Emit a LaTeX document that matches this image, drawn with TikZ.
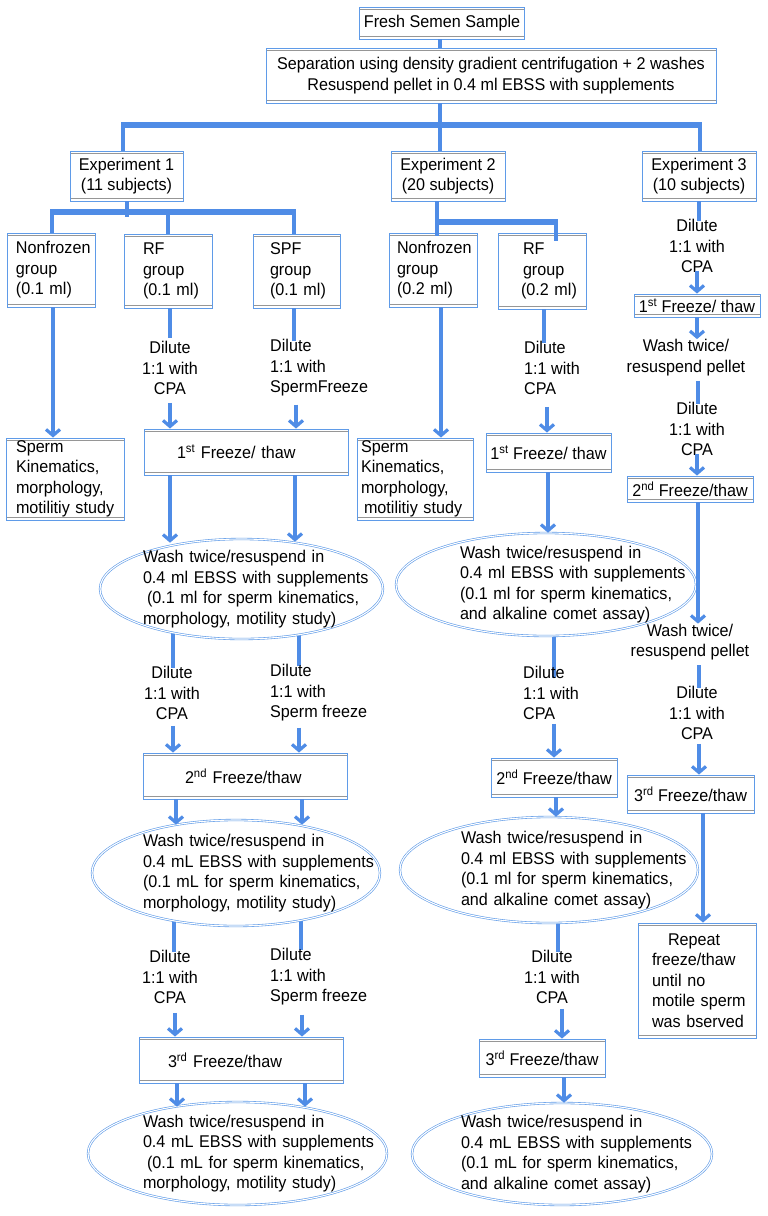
\documentclass[tikz,border=0pt]{standalone}
\usepackage{fontspec}
\setmainfont{Liberation Sans}[FakeStretch=0.95]
\usetikzlibrary{shapes.geometric,arrows.meta,calc}
\pgfdeclarelayer{background}
\pgfsetlayers{background,main}
\definecolor{lineblue}{RGB}{79,140,230}
\definecolor{boxblue}{RGB}{95,155,232}
\definecolor{shadowgray}{RGB}{150,150,150}
\newcommand\myindent[1]{\leftskip=#1\relax}
\begin{document}
\begin{tikzpicture}[x=1pt,y=-1pt,
 every node/.style={font=\fontsize{17}{20.5}\selectfont, inner sep=0pt},
 rbox/.style={draw=boxblue, line width=0.9pt,
   path picture={\draw[shadowgray, line width=0.8pt]
     ([yshift=-2.6pt]path picture bounding box.north west) -- ([yshift=-2.6pt]path picture bounding box.north east)
     ([yshift=2.6pt]path picture bounding box.south west) -- ([yshift=2.6pt]path picture bounding box.south east);}},
 lbox/.style={rbox, align=left, text width=#1},
 cbox/.style={rbox, align=center, minimum width=#1},
 ell/.style={ellipse, draw=boxblue, line width=0.6pt, double=white, double distance=1.1pt, fill=white, inner sep=-60pt, align=left, text width=300pt},
 lab/.style={align=center},
 labl/.style={align=left, anchor=west},
 conn/.style={draw=lineblue, line width=3.6pt},
 into/.style={conn, shorten >=-2pt},
 bar/.style={draw=lineblue, line width=5.5pt},
 arr/.style={conn, -{Straight Barb[length=6pt,width=14pt,line width=3.2pt]}},
 arrl/.style={arr, shorten <=6pt},
]
\useasboundingbox (0,0) rectangle (768,1216);
\begin{pgfonlayer}{background}
\fill[white] (0,0) rectangle (768,1216);
\end{pgfonlayer}

% top
\node[cbox=165pt, minimum height=32pt] (fresh) at (442,23) {Fresh Semen Sample};
\node[cbox=450pt, minimum height=55pt] (sep) at (491,75.5) {Separation using density gradient centrifugation + 2 washes\\Resuspend pellet in 0.4 ml EBSS with supplements};
\node[cbox=113pt, minimum height=50pt] (exp1) at (126.5,176) {Experiment 1\\(11 subjects)};
\node[cbox=114pt, minimum height=50pt] (exp2) at (448,176) {Experiment 2\\(20 subjects)};
\node[cbox=114pt, minimum height=50pt] (exp3) at (699,176) {Experiment 3\\(10 subjects)};

% groups
\node[lbox=88pt, minimum height=74pt] (nf1) at (51,270) {\myindent{9pt}Nonfrozen\\group\\(0.1 ml)\par};
\node[lbox=88pt, minimum height=74pt] (rf1) at (168,271) {\myindent{19pt}RF\\group\\(0.1 ml)\par};
\node[lbox=87pt, minimum height=74pt] (spf1) at (296.5,271) {\myindent{17pt}SPF\\group\\(0.1 ml)\par};
\node[lbox=88pt, minimum height=74pt] (nf2) at (433,270) {\myindent{8pt}Nonfrozen\\group\\(0.2 ml)\par};
\node[lbox=88pt, minimum height=76pt] (rf2) at (542,271) {\myindent{25pt}RF\\group\\\hspace*{-2pt}(0.2 ml)\par};

\node[lbox=118pt, minimum height=82pt] (sk1) at (65,479) {\myindent{10pt}Sperm\\Kinematics,\\morphology,\\motilitiy study\par};
\node[lbox=116pt, minimum height=82pt] (sk2) at (415,479) {\myindent{4pt}Sperm\\Kinematics,\\morphology,\\\hspace*{3pt}motilitiy study\par};

% experiment 1 column
\node[lab] (d1a) at (170,368) {Dilute\\1:1 with\\CPA};
\node[labl] (d1b) at (270,368) {Dilute\\1:1 with\\SpermFreeze};
\node[lbox=204pt, minimum height=46pt] (f1a) at (246,452) {\myindent{33pt}1\textsuperscript{st} Freeze/ thaw\par};
\node[ell, minimum width=283pt, minimum height=100pt] (e1a) at (241.5,589) {\myindent{51.5pt}Wash twice/resuspend in\\0.4 ml EBSS with supplements\\\hspace*{4pt}(0.1 ml for sperm kinematics,\\morphology, motility study)\par};
\node[lab] (d1c) at (172,693) {Dilute\\1:1 with\\CPA};
\node[labl] (d1d) at (270,693) {Dilute\\1:1 with\\Sperm freeze};
\node[lbox=204pt, minimum height=46pt] (f1b) at (245,776) {\myindent{42pt}2\textsuperscript{nd} Freeze/thaw\par};
\node[ell, minimum width=288pt, minimum height=106pt] (e1b) at (236,873) {\myindent{57pt}Wash twice/resuspend in\\0.4 mL EBSS with supplements\\(0.1 mL for sperm kinematics,\\morphology, motility study)\par};
\node[lab] (d1e) at (170,977) {Dilute\\1:1 with\\CPA};
\node[labl] (d1f) at (270,977) {Dilute\\1:1 with\\Sperm freeze};
\node[lbox=204pt, minimum height=46pt] (f1c) at (241,1060) {\myindent{29pt}3\textsuperscript{rd} Freeze/thaw\par};
\node[ell, minimum width=299pt, minimum height=103pt] (e1c) at (237.5,1153.5) {\myindent{55.5pt}Wash twice/resuspend in\\0.4 mL EBSS with supplements\\\hspace*{4pt}(0.1 mL for sperm kinematics,\\morphology, motility study)\par};

% experiment 2 column
\node[labl] (d2a) at (524,368) {Dilute\\1:1 with\\CPA};
\node[cbox=125pt, minimum height=39pt] (f2a) at (548.5,452.5) {1\textsuperscript{st} Freeze/ thaw};
\node[ell, minimum width=300pt, minimum height=103pt] (e2a) at (546,584.5) {\myindent{64pt}Wash twice/resuspend in\\0.4 ml EBSS with supplements\\(0.1 ml for sperm kinematics,\\and alkaline comet assay)\par};
\node[labl] (d2b) at (523,693) {Dilute\\1:1 with\\CPA};
\node[cbox=126pt, minimum height=39pt] (f2b) at (554,777.5) {2\textsuperscript{nd} Freeze/thaw};
\node[ell, minimum width=298pt, minimum height=106pt] (e2b) at (549,870) {\myindent{62pt}Wash twice/resuspend in\\0.4 ml EBSS with supplements\\(0.1 ml for sperm kinematics,\\and alkaline comet assay)\par};
\node[lab] (d2c) at (552,977) {Dilute\\1:1 with\\CPA};
\node[cbox=126pt, minimum height=38pt] (f2c) at (542,1058) {3\textsuperscript{rd} Freeze/thaw};
\node[ell, minimum width=300pt, minimum height=102pt] (e2c) at (562,1154) {\myindent{49pt}Wash twice/resuspend in\\0.4 mL EBSS with supplements\\(0.1 mL for sperm kinematics,\\and alkaline comet assay)\par};

% experiment 3 column
\node[lab] (d3a) at (697,246) {Dilute\\1:1 with\\CPA};
\node[cbox=126pt, minimum height=23pt] (f3a) at (697,305.5) {1\textsuperscript{st} Freeze/ thaw};
\node[lab] (w3a) at (686,357.5) {Wash twice/\\resuspend pellet};
\node[lab] (d3b) at (697,429) {Dilute\\1:1 with\\CPA};
\node[cbox=126pt, minimum height=26pt] (f3b) at (690,489) {2\textsuperscript{nd} Freeze/thaw};
\node[lab] (w3b) at (690,642) {Wash twice/\\resuspend pellet};
\node[lab] (d3c) at (697,713) {Dilute\\1:1 with\\CPA};
\node[cbox=127pt, minimum height=38pt] (f3c) at (690.5,794) {3\textsuperscript{rd} Freeze/thaw};
\node[lbox=118pt, minimum height=115pt] (rep) at (697,980.5) {\myindent{14pt}\hspace*{16pt}Repeat\\freeze/thaw\\until no\\motile sperm\\was bserved\par};

% tree connectors
\coordinate (b0l) at (123,125);
\coordinate (b0r) at (700,125);
\coordinate (b1l) at (52,212);
\coordinate (b1m) at (168,212);
\coordinate (b1r) at (294,212);
\coordinate (b1s) at (127,217);
\coordinate (b2l) at (437,222);
\coordinate (b2r) at (556,222);

\draw[conn] (fresh.south -| 440,0) -- (sep.north -| 440,0);
\draw[conn] (sep.south -| 440,0) -- (exp2.north -| 440,0);
\draw[conn] (b0l) -- (exp1.north -| b0l);
\draw[conn] (b0r) -- (exp3.north -| b0r);
\draw[bar] ([xshift=-1.8pt]b0l) -- ([xshift=1.8pt]b0r);

\draw[conn] (exp1.south -| b1s) -- (b1s);
\draw[conn] (b1l) -- (nf1.north -| b1l);
\draw[conn] (b1m) -- (rf1.north -| b1m);
\draw[conn] (b1r) -- (spf1.north -| b1r);
\draw[bar] ([xshift=-1.8pt]b1l) -- ([xshift=1.8pt]b1r);

\draw[conn] (exp2.south -| b2l) -- ($(nf2.north -| b2l)+(0,3)$);
\draw[conn] (b2r) -- ($(rf2.north -| b2r)+(0,8)$);
\draw[bar] ([xshift=-1.8pt]b2l) -- ([xshift=1.8pt]b2r);

% experiment 1 flow
\draw[arr] (nf1.south -| 53,0) -- (sk1.north -| 53,0);
\draw[into, shorten >=3pt] (rf1.south -| 170,0) -- (d1a.north -| 170,0);
\draw[arrl, shorten <=8pt] (d1a.south -| 170,0) -- (f1a.north -| 170,0);
\draw[into] (spf1.south -| 294,0) -- (d1b.north -| 294,0);
\draw[arrl, shorten <=8pt] (d1b.south -| 296,0) -- (f1a.north -| 296,0);
\draw[arr] (f1a.south -| 170,0) -- ($(e1a.north -| 170,0)+(0,4)$);
\draw[arr] (f1a.south -| 295,0) -- ($(e1a.north -| 295,0)+(0,3)$);
\begin{pgfonlayer}{background}
\draw[into] (e1a.center -| 173,0) -- (d1c.north -| 173,0);
\draw[into] (e1a.center -| 299,0) -- (d1d.north -| 299,0);
\draw[into] (e1b.center -| 174,0) -- (d1e.north -| 174,0);
\draw[into] (e1b.center -| 301,0) -- (d1f.north -| 301,0);
\draw[into, shorten >=-12pt] (e2a.center -| 554,0) -- (d2b.north -| 554,0);
\draw[into] (e2b.center -| 558,0) -- (d2c.north -| 558,0);
\end{pgfonlayer}
\draw[arrl] (d1c.south -| 173,0) -- (f1b.north -| 173,0);
\draw[arrl] (d1d.south -| 299,0) -- (f1b.north -| 299,0);
\draw[arr] (f1b.south -| 176,0) -- ($(e1b.north -| 176,0)+(0,5)$);
\draw[arr] (f1b.south -| 302,0) -- ($(e1b.north -| 302,0)+(0,5)$);
\draw[arrl, shorten <=9pt] (d1e.south -| 175,0) -- (f1c.north -| 175,0);
\draw[arrl, shorten <=9pt] (d1f.south -| 302,0) -- (f1c.north -| 302,0);
\draw[arr] (f1c.south -| 177,0) -- ($(e1c.north -| 177,0)+(0,5)$);
\draw[arr] (f1c.south -| 305,0) -- ($(e1c.north -| 305,0)+(0,5)$);

% experiment 2 flow
\draw[arr] (nf2.south -| 441,0) -- (sk2.north -| 441,0);
\draw[into] (rf2.south -| 544,0) -- (d2a.north -| 544,0);
\draw[arrl, shorten <=12pt] (d2a.south -| 547,0) -- (f2a.north -| 547,0);
\draw[arr] (f2a.south -| 548,0) -- (e2a.north -| 548,0);
\draw[arrl, shorten <=4pt] (d2b.south -| 554,0) -- (f2b.north -| 554,0);
\draw[arr] (f2b.south -| 556,0) -- (e2b.north -| 556,0);
\draw[arrl, shorten <=5pt] (d2c.south -| 562,0) -- (f2c.north -| 562,0);
\draw[arr] (f2c.south -| 564,0) -- (e2c.north -| 564,0);

% experiment 3 flow
\draw[into] (exp3.south -| 699,0) -- (d3a.north -| 699,0);
\draw[arrl, shorten <=-2pt] (d3a.south -| 697,0) -- (f3a.north -| 697,0);
\draw[arr] (f3a.south -| 697,0) -- (w3a.north -| 697,0);
\draw[into, shorten <=5pt] (w3a.south -| 698,0) -- (d3b.north -| 698,0);
\draw[arrl, shorten <=-2pt] (d3b.south -| 697,0) -- (f3b.north -| 697,0);
\draw[arr] (f3b.south -| 698,0) -- (w3b.north -| 698,0);
\draw[into, shorten <=5pt] (w3b.south -| 699,0) -- (d3c.north -| 699,0);
\draw[arrl, shorten <=4pt] (d3c.south -| 699,0) -- (f3c.north -| 699,0);
\draw[arr] (f3c.south -| 703,0) -- (rep.north -| 703,0);
\end{tikzpicture}
\end{document}
